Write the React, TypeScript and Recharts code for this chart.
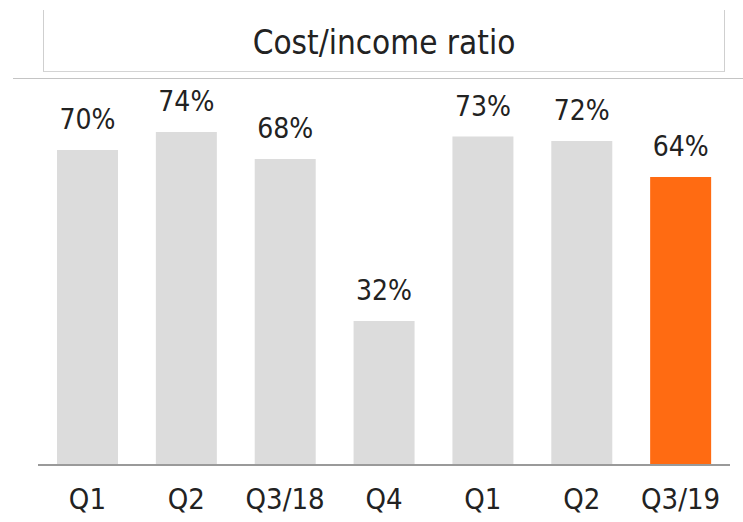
import React from "react";
import { BarChart, Bar, XAxis, YAxis, Cell, LabelList } from "recharts";

const categories = ["Q1", "Q2", "Q3/18", "Q4", "Q1", "Q2", "Q3/19"];
const ratios = [70, 74, 68, 32, 73, 72, 64];
const highlight = [false, false, false, false, false, false, true];

const data = categories.map((c, i) => ({ name: c + "_" + i, label: c, value: ratios[i], hl: highlight[i] }));

const FONT = "'DejaVu Sans Condensed', 'DejaVu Sans', sans-serif";

export default function App() {
  return (
    <div style={{ position: "absolute", left: 0, top: 0, width: 743, height: 522, background: "#fff", fontFamily: FONT }}>
      <div
        style={{
          position: "absolute",
          left: 43,
          top: 10,
          width: 682,
          height: 62,
          borderLeft: "1px solid #cfcfcf",
          borderRight: "1px solid #cfcfcf",
          borderBottom: "1px solid #d4d4d4",
          display: "flex",
          alignItems: "center",
          justifyContent: "center",
          fontSize: 33,
          color: "#222",
          paddingTop: 4,
          boxSizing: "border-box",
        }}
      >
        Cost/income ratio
      </div>
      <div style={{ position: "absolute", left: 13, top: 78, width: 730, height: 0, borderTop: "1px solid #c4c4c4" }} />
      <div style={{ position: "absolute", left: 0, top: 0 }}>
        <BarChart width={743} height={522} data={data} margin={{ top: 15, right: 13, left: 38, bottom: 27 }}>
          <YAxis hide domain={[0, 100]} />
          <XAxis
            dataKey="name"
            tickFormatter={(v: string) => v.split("_")[0]}
            axisLine={{ stroke: "#9a9a9a", strokeWidth: 2 }}
            tickLine={false}
            tickMargin={17}
            height={30}
            tick={{ fontSize: 29, fill: "#222", fontFamily: FONT }}
            interval={0}
          />
          <Bar dataKey="value" barSize={61} isAnimationActive={false}>
            {data.map((d, i) => (
              <Cell key={i} fill={d.hl ? "#ff6b12" : "#dcdcdc"} />
            ))}
            <LabelList
              dataKey="value"
              position="top"
              offset={21}
              formatter={(v: any) => v + "%"}
              style={{ fontSize: 28, fill: "#222", fontFamily: FONT }}
            />
          </Bar>
        </BarChart>
      </div>
    </div>
  );
}
